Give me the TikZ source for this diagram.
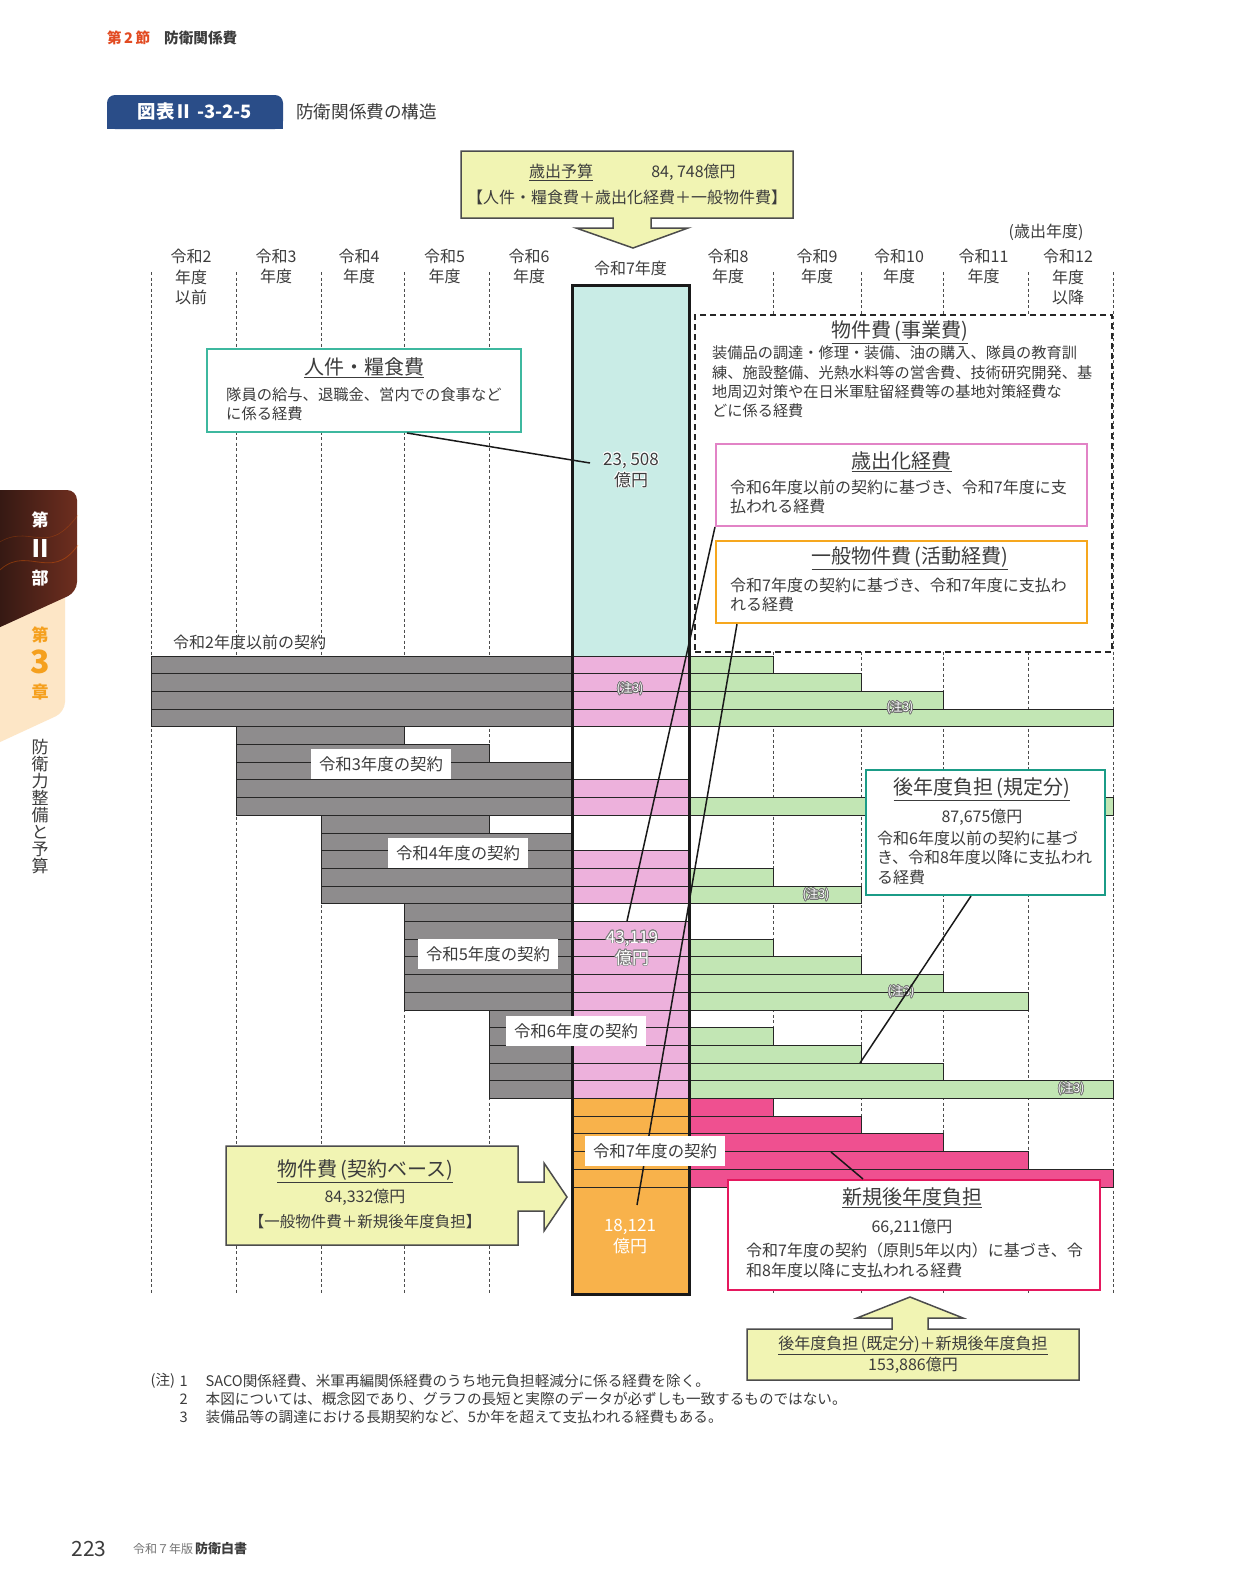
\documentclass[tikz,border=0pt]{standalone}
\usepackage{fontspec}
\setmainfont{Noto Sans CJK JP}
\usepackage{contour}
\contourlength{0.7pt}

\definecolor{barGray}{HTML}{8E8C8D}
\definecolor{barPink}{HTML}{EDB1DC}
\definecolor{barGreen}{HTML}{C2E6B4}
\definecolor{barRed}{HTML}{EF5090}
\definecolor{barOrange}{HTML}{F8B24B}
\definecolor{barCyan}{HTML}{C9ECE6}
\definecolor{noteYellow}{HTML}{F1F4B3}
\definecolor{tealLine}{HTML}{3DB89F}
\definecolor{tealDark}{HTML}{1B9C87}
\definecolor{pinkLine}{HTML}{E283C6}
\definecolor{orangeLine}{HTML}{F6A71E}
\definecolor{crimsonLine}{HTML}{E5185E}
\definecolor{tabBlue}{HTML}{2A4D88}
\definecolor{headRed}{HTML}{E24B22}
\definecolor{chapOrange}{HTML}{F5A01E}
\definecolor{chapPeach}{HTML}{FDE6C6}
\definecolor{tabDark}{HTML}{2B1511}
\definecolor{tabRed}{HTML}{6E2E1F}
\definecolor{txtGray}{HTML}{3C3C3C}

\tikzset{
  barcell/.style={draw=black!85, line width=0.9pt},
  gridline/.style={black!70, line width=0.6pt, dash pattern=on 3pt off 2.5pt},
  colhead/.style={font=\fontsize{16}{20.5}\selectfont, text=txtGray, align=center, inner sep=0pt},
  boxhead/.style={font=\fontsize{20}{24}\selectfont, text=txtGray, inner sep=0pt},
  boxbody/.style={font=\fontsize{16}{19}\selectfont, text=txtGray, align=left, anchor=west, inner sep=0pt},
  infobox/.style={fill=white, line width=2pt},
  arrowbox/.style={fill=noteYellow, draw=black!70, line width=1.5pt},
  contract/.style={fill=white, font=\fontsize{16.4}{20}\selectfont, text=txtGray, inner xsep=8pt, inner ysep=7pt},
  amount/.style={font=\fontsize{17}{21}\selectfont, align=center, inner sep=0pt},
  note3/.style={font=\fontsize{12}{14}\selectfont, text=white, inner sep=0pt},
  notetext/.style={font=\fontsize{14.6}{17}\selectfont, text=txtGray, anchor=west, inner sep=0pt},
  leaderline/.style={line width=1.5pt, black!90}
}

\begin{document}
\begin{tikzpicture}[x=1pt, y=-1pt]
  \useasboundingbox (0,0) rectangle (1241,1595);
  \fill[white] (0,0) rectangle (1241,1595);

  % page header
  \node[anchor=west, inner sep=0pt, font=\bfseries\fontsize{14.6}{17}\selectfont, text=headRed] (sec) at (107,37.6) {第\,2\,節};
  \node[anchor=west, inner sep=0pt, font=\bfseries\fontsize{14.6}{17}\selectfont, text=txtGray] (sectitle) at (164,37.6) {防衛関係費};

  % figure tab and title
  \fill[tabBlue, rounded corners=8pt] (107,95) rectangle (283,129);
  \fill[tabBlue] (107,112) rectangle (283,129);
  \node[font=\bfseries\fontsize{18.4}{22}\selectfont, text=white] (tab) at (195,111) {図表Ⅱ -3-2-5};
  \node[anchor=west, inner sep=0pt, font=\fontsize{17.6}{21}\selectfont, text=txtGray] (figtitle) at (296,112) {防衛関係費の構造};

  % side tab
  \fill[chapPeach, rounded corners=10pt] (-15,585) -- (65,585) -- (65,712) -- (-15,749) -- cycle;
  \shade[left color=tabDark, right color=tabRed, rounded corners=10pt] (-15,490) -- (77,490) -- (77,592) -- (-15,634) -- cycle;
  \draw[orange!80!red, opacity=0.35, line width=0.8pt] (-5,575) .. controls (25,540) and (50,585) .. (78,545);
  \draw[orange!80!red, opacity=0.25, line width=0.6pt] (-5,545) .. controls (30,520) and (45,560) .. (78,515);
  \node[font=\bfseries\fontsize{17}{20}\selectfont, text=white] (part1) at (40,520) {第};
  \node[font=\bfseries\fontsize{24}{26}\selectfont, text=white] (part2) at (40,549) {Ⅱ};
  \node[font=\bfseries\fontsize{17}{20}\selectfont, text=white] (part3) at (40,578) {部};
  \node[font=\bfseries\fontsize{17}{20}\selectfont, text=chapOrange] (chap1) at (40,635) {第};
  \node[font=\bfseries\fontsize{32}{34}\selectfont, text=chapOrange] (chap2) at (40,662) {3};
  \node[font=\bfseries\fontsize{17}{20}\selectfont, text=chapOrange] (chap3) at (40,692) {章};
  \foreach \c [count=\i] in {防,衛,力,整,備,と,予,算}
    \node[font=\fontsize{17}{20}\selectfont, text=txtGray] (side\i) at (40,729.6+17.1*\i) {\c};

  % grid of fiscal years
  \foreach \x in {151,236,321,404,489,773,861,943,1028,1113}
    \draw[gridline] (\x,272) -- (\x,1294);

  % year heads
  \node[colhead] (y2) at (191,277) {令和2\\年度\\以前};
  \foreach \n/\x in {3/276, 4/359, 5/444.5, 6/529, 8/728, 9/817, 10/899, 11/983.5}
    \node[colhead] (y\n) at (\x,266.5) {令和\n\\年度};
  \node[colhead] (y7) at (630.5,268.5) {令和7年度};
  \node[colhead] (y12) at (1068,277) {令和12\\年度\\以降};
  \node[colhead] (fy) at (1046,232) {(歳出年度)};

  % top box: 歳出予算
  \filldraw[arrowbox] (461,151) -- (793,151) -- (793,218) -- (651,218) -- (651,228) -- (688,228)
    -- (633,248) -- (576,228) -- (613,228) -- (613,218) -- (461,218) -- cycle;
  \node[font=\fontsize{16}{19}\selectfont, text=txtGray] (budget) at (561,172) {\underline{歳出予算}};
  \node[font=\fontsize{16}{19}\selectfont, text=txtGray] (budgetV) at (693.5,172) {84, 748億円};
  \node[font=\fontsize{16}{19}\selectfont, text=txtGray] (budgetS) at (627,197) {【人件・糧食費＋歳出化経費＋一般物件費】};

  % bar of 令和7年度
  \fill[barCyan] (572,285) rectangle (689,656);
  % contracts up to 令和6年度: row / first year / last edge
  \foreach \r/\xs/\xe in {0/151/773, 1/151/861, 2/151/943, 3/151/1113,
      4/236/404, 5/236/489, 6/236/572, 7/236/689, 8/236/1113,
      9/321/489, 10/321/572, 11/321/689, 12/321/773, 13/321/861,
      14/404/572, 15/404/689, 16/404/773, 17/404/861, 18/404/943, 19/404/1028,
      20/489/689, 21/489/773, 22/489/861, 23/489/943, 24/489/1113}{
    \pgfmathsetmacro\yt{656+17.7*\r}
    \pgfmathsetmacro\yb{673.7+17.7*\r}
    \pgfmathsetmacro\xg{min(\xe,572)}
    \filldraw[barcell, fill=barGray] (\xs,\yt) rectangle (\xg,\yb);
    \ifnum\xe>572 \filldraw[barcell, fill=barPink] (572,\yt) rectangle (689,\yb); \fi
    \ifnum\xe>689 \filldraw[barcell, fill=barGreen] (689,\yt) rectangle (\xe,\yb); \fi
  }
  % contracts of 令和7年度
  \foreach \r/\xe in {25/773, 26/861, 27/943, 28/1028, 29/1113}{
    \pgfmathsetmacro\yt{656+17.7*\r}
    \pgfmathsetmacro\yb{673.7+17.7*\r}
    \filldraw[barcell, fill=barOrange] (572,\yt) rectangle (689,\yb);
    \filldraw[barcell, fill=barRed] (689,\yt) rectangle (\xe,\yb);
  }
  \filldraw[barcell, fill=barOrange] (572,1187) rectangle (689,1294);
  \draw[line width=3pt, black!90] (572,285) rectangle (689,1294);

  \node[anchor=west, inner sep=0pt, font=\fontsize{16}{19}\selectfont, text=txtGray] (k2) at (173,642) {令和2年度以前の契約};

  % (注3) marks
  \foreach \x/\y [count=\i] in {630/689, 900/708, 816/895, 901/992, 1071/1089}
    \node[note3] (ch\i) at (\x,\y) {\contour{black!55}{(注3)}};

  % amounts in the bar
  \node[amount, text=txtGray] (v23) at (631,470.5) {\contour{white}{23, 508}\\\contour{white}{億円}};
  \node[amount, text=white] (v43) at (632,948.5) {\contour{black!50}{43,119}\\\contour{black!50}{億円}};
  \node[amount, text=white] (v18) at (630,1237) {18,121\\億円};

  % 人件・糧食費
  \node[infobox, draw=tealLine, minimum width=314.5pt, minimum height=83pt] (jinken) at (363.75,390.5) {};
  \node[boxhead] (jinkenT) at (364,368) {\underline{人件・糧食費}};
  \node[boxbody, font=\fontsize{15.3}{18.5}\selectfont] (jinkenB) at (226,404) {隊員の給与、退職金、営内での食事など\\に係る経費};

  % 物件費(事業費)
  \node[draw=black!85, line width=2pt, dash pattern=on 6pt off 4pt, fill=white,
    minimum width=417pt, minimum height=337pt] (jigyo) at (903.5,483.5) {};
  \node[boxhead] (jigyoT) at (900,332) {\underline{物件費\,(事業費)}};
  \node[boxbody, font=\fontsize{15.2}{19.3}\selectfont] (jigyoB) at (712,382)
    {装備品の調達・修理・装備、油の購入、隊員の教育訓\\練、施設整備、光熱水料等の営舎費、技術研究開発、基\\地周辺対策や在日米軍駐留経費等の基地対策経費な\\どに係る経費};

  % 歳出化経費
  \node[infobox, draw=pinkLine, minimum width=371pt, minimum height=82pt] (saishutsu) at (901.5,485) {};
  \node[boxhead] (saishutsuT) at (901.5,462) {\underline{歳出化経費}};
  \node[boxbody] (saishutsuB) at (730,496.5) {令和6年度以前の契約に基づき、令和7年度に支\\払われる経費};

  % 一般物件費(活動経費)
  \node[infobox, draw=orangeLine, minimum width=371pt, minimum height=82pt] (ippan) at (901.5,582) {};
  \node[boxhead] (ippanT) at (910,558) {\underline{一般物件費\,(活動経費)}};
  \node[boxbody] (ippanB) at (730,595) {令和7年度の契約に基づき、令和7年度に支払わ\\れる経費};

  % 後年度負担(規定分)
  \node[infobox, draw=tealDark, minimum width=239pt, minimum height=125pt] (kitei) at (985.5,832.5) {};
  \node[boxhead] (kiteiT) at (982,789) {\underline{後年度負担\,(規定分)}};
  \node[font=\fontsize{16}{19}\selectfont, text=txtGray] (kiteiV) at (982,817) {87,675億円};
  \node[boxbody, font=\fontsize{16}{19.5}\selectfont] (kiteiB) at (877,857.5) {令和6年度以前の契約に基づ\\き、令和8年度以降に支払われ\\る経費};

  % 新規後年度負担
  \node[infobox, draw=crimsonLine, minimum width=372pt, minimum height=110pt] (shinki) at (914,1235) {};
  \node[boxhead] (shinkiT) at (912,1198) {\underline{新規後年度負担}};
  \node[font=\fontsize{16}{19}\selectfont, text=txtGray] (shinkiV) at (912,1227) {66,211億円};
  \node[boxbody, font=\fontsize{16}{20}\selectfont] (shinkiB) at (746,1260) {令和7年度の契約（原則5年以内）に基づき、令\\和8年度以降に支払われる経費};

  % 物件費(契約ベース)
  \filldraw[arrowbox] (226,1146) -- (518,1146) -- (518,1182) -- (544,1182) -- (544,1163) -- (567,1197)
    -- (544,1231) -- (544,1211) -- (518,1211) -- (518,1245) -- (226,1245) -- cycle;
  \node[boxhead] (keiyakuT) at (365,1171) {\underline{物件費\,(契約ベース)}};
  \node[font=\fontsize{16}{19}\selectfont, text=txtGray] (keiyakuV) at (365,1197) {84,332億円};
  \node[font=\fontsize{15.5}{19}\selectfont, text=txtGray] (keiyakuS) at (365,1222) {【一般物件費＋新規後年度負担】};

  % bottom box
  \filldraw[arrowbox] (747,1329) -- (892,1329) -- (892,1318) -- (857,1318) -- (910,1297) -- (963,1318)
    -- (928,1318) -- (928,1329) -- (1079,1329) -- (1079,1380) -- (747,1380) -- cycle;
  \node[font=\fontsize{16}{19}\selectfont, text=txtGray] (totalT) at (913,1345) {\underline{後年度負担\,(既定分)＋新規後年度負担}};
  \node[font=\fontsize{16}{19}\selectfont, text=txtGray] (totalV) at (913,1365) {153,886億円};

  % leader lines
  \coordinate (p23) at (590,463);
  \coordinate (p43) at (627,921);
  \coordinate (p18) at (637,1205);
  \coordinate (pk) at (860,1063);
  \coordinate (ps) at (831,1152);
  \draw[leaderline] ([xshift=201.5pt]jinken.south west) -- (p23);
  \draw[leaderline] (saishutsu.south west) -- (p43);
  \draw[leaderline] ([xshift=22pt]ippan.south west) -- (p18);
  \draw[leaderline] ([xshift=106pt]kitei.south west) -- (pk);
  \draw[leaderline] (ps) -- ([xshift=136pt]shinki.north west);

  % contract labels
  \node[contract] (k3) at (381,764) {令和3年度の契約};
  \node[contract] (k4) at (458,853) {令和4年度の契約};
  \node[contract] (k5) at (488,954) {令和5年度の契約};
  \node[contract] (k6) at (576,1031) {令和6年度の契約};
  \node[contract] (k7) at (655,1151) {令和7年度の契約};

  % notes
  \node[notetext] (n0) at (150.5,1381) {(注)};
  \foreach \i/\y/\t in {1/1381/SACO関係経費、米軍再編関係経費のうち地元負担軽減分に係る経費を除く。,
      2/1399/本図については、概念図であり、グラフの長短と実際のデータが必ずしも一致するものではない。,
      3/1417/装備品等の調達における長期契約など、5か年を超えて支払われる経費もある。}{
    \node[notetext, anchor=east] (nn\i) at (188,\y) {\i};
    \node[notetext] (nt\i) at (205.5,\y) {\t};
  }

  % page footer
  \node[font=\fontsize{21}{24}\selectfont, text=txtGray] (pg) at (89,1549) {223};
  \node[anchor=west, inner sep=0pt, font=\fontsize{12}{14}\selectfont, text=black!55] (pub) at (133,1549) {令和７年版};
  \node[anchor=west, inner sep=0pt, font=\bfseries\fontsize{13}{15}\selectfont, text=txtGray] (pubname) at (195,1549) {防衛白書};
\end{tikzpicture}
\end{document}
